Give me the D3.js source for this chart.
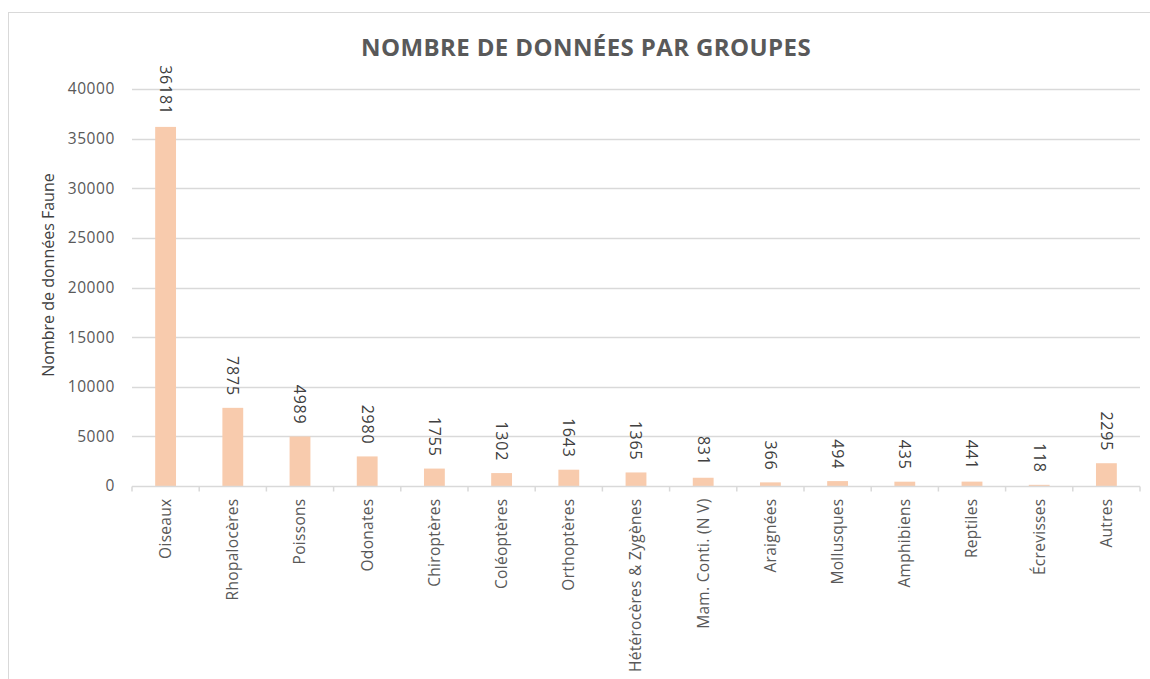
<!DOCTYPE html>
<html>
<head>
<meta charset="utf-8">
<script src="https://cdn.jsdelivr.net/npm/d3@7"></script>
<style>
  body { margin: 0; background: #fff; }
  text { font-family: "Open Sans", sans-serif; }
</style>
</head>
<body>
<div id="chart"></div>
<script>
//Categories and values
var groupes = ["Oiseaux", "Rhopalocères", "Poissons", "Odonates", "Chiroptères", "Coléoptères",
  "Orthoptères", "Hétérocères & Zygènes", "Mam. Conti. (N V)", "Araignées", "Mollusques",
  "Amphibiens", "Reptiles", "Écrevisses", "Autres"];
var donnees = [36181, 7875, 4989, 2980, 1755, 1302, 1643, 1365, 831, 366, 494, 435, 441, 118, 2295];
var yTicks = [0, 5000, 10000, 15000, 20000, 25000, 30000, 35000, 40000];

var width = 1150, height = 679;
//plot area edges (top is reserved by window, so use plot* names)
var plotLeft = 132, plotRight = 1140, plotTop = 89, plotBottom = 486;

var svg = d3.select("#chart").append("svg")
  .attr("width", width)
  .attr("height", height);

//outer frame of the chart area
svg.append("rect")
  .attr("x", 8.5).attr("y", 12.5)
  .attr("width", 1160).attr("height", 700)
  .attr("fill", "none")
  .attr("stroke", "#d9d9d9");

var x = d3.scaleBand()
  .domain(groupes)
  .range([plotLeft, plotRight])
  .paddingInner(0.69)
  .paddingOuter(0.345);

var y = d3.scaleLinear()
  .domain([0, 40000])
  .range([plotBottom, plotTop]);

//gridlines
svg.append("g")
  .selectAll("line")
  .data(yTicks.slice(1))
  .enter().append("line")
  .attr("x1", plotLeft).attr("x2", plotRight)
  .attr("y1", function (d) { return Math.round(y(d)) + 0.5; })
  .attr("y2", function (d) { return Math.round(y(d)) + 0.5; })
  .attr("stroke", "#d9d9d9")
  .attr("stroke-width", 1.5);

//y axis labels
var yAxis = svg.append("g")
  .attr("transform", "translate(" + plotLeft + ",0)")
  .call(d3.axisLeft(y).tickValues(yTicks).tickSize(0).tickPadding(17).tickFormat(d3.format("d")));
yAxis.select(".domain").remove();
yAxis.selectAll("text")
  .attr("fill", "#595959")
  .style("font-size", "15.5px")
  .style("letter-spacing", "0.6px");

//bars
svg.append("g")
  .selectAll("rect")
  .data(donnees)
  .enter().append("rect")
  .attr("x", function (d, i) { return x(groupes[i]); })
  .attr("y", function (d) { return y(d); })
  .attr("width", x.bandwidth())
  .attr("height", function (d) { return y(0) - y(d); })
  .attr("fill", "#f8cbad");

//x axis
var step = x.step();
var xAxis = svg.append("g")
  .attr("transform", "translate(0," + (plotBottom + 0.5) + ")");
xAxis.append("line")
  .attr("x1", plotLeft).attr("x2", plotRight)
  .attr("stroke", "#d9d9d9").attr("stroke-width", 1.5);
xAxis.selectAll(".tick-mark")
  .data(d3.range(groupes.length + 1))
  .enter().append("line")
  .attr("class", "tick-mark")
  .attr("x1", function (i) { return plotLeft + i * step; })
  .attr("x2", function (i) { return plotLeft + i * step; })
  .attr("y1", 0).attr("y2", 5)
  .attr("stroke", "#d9d9d9").attr("stroke-width", 1.5);
xAxis.selectAll(".cat")
  .data(groupes)
  .enter().append("text")
  .attr("class", "cat")
  .attr("transform", function (d) {
    return "translate(" + (x(d) + x.bandwidth() / 2) + ",12) rotate(-90)";
  })
  .attr("text-anchor", "end")
  .attr("dy", "0.35em")
  .attr("fill", "#595959")
  .style("font-size", "15.5px")
  .style("letter-spacing", "0.3px")
  .text(function (d) { return d; });

//value labels
svg.append("g")
  .selectAll("text")
  .data(donnees)
  .enter().append("text")
  .attr("transform", function (d, i) {
    return "translate(" + (x(groupes[i]) + x.bandwidth() / 2) + "," + (y(d) - 12) + ") rotate(90)";
  })
  .attr("text-anchor", "end")
  .attr("dy", "0.35em")
  .attr("fill", "#404040")
  .style("font-size", "16px")
  .style("letter-spacing", "0.8px")
  .text(function (d) { return d; });

//title
svg.append("text")
  .attr("x", 586).attr("y", 56)
  .attr("text-anchor", "middle")
  .attr("fill", "#595959")
  .style("font-size", "24px")
  .style("font-weight", "bold")
  .style("letter-spacing", "0.4px")
  .text("NOMBRE DE DONNÉES PAR GROUPES");

//y axis title
svg.append("text")
  .attr("transform", "translate(48,275) rotate(-90)")
  .attr("text-anchor", "middle")
  .attr("dy", "0.35em")
  .attr("fill", "#404040")
  .style("font-size", "16px")
  .text("Nombre de données Faune");
</script>
</body>
</html>
